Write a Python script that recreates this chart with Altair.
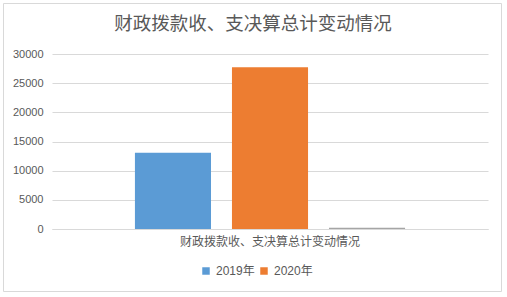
import altair as alt
import pandas as pd

category = "财政拨款收、支决算总计变动情况"
series = ["2019年", "2020年", "增减变动"]
values = [13070, 27750, 200]
colors = ["#5B9BD5", "#ED7D31", "#A5A5A5"]
legend_values = ["2019年", "2020年"]

df = pd.DataFrame({"cat": [category] * len(series), "series": series, "value": values})

FONT = "Liberation Sans, Noto Sans CJK SC"
GREY = "#595959"

bars = alt.Chart(df).mark_bar().encode(
    x=alt.X("cat:N", title=None,
            scale=alt.Scale(paddingInner=0, paddingOuter=0.307),
            axis=alt.Axis(labelAngle=0, labelFontSize=12, labelColor=GREY, labelFont=FONT,
                          ticks=False, domainColor="#D9D9D9", labelPadding=7, labelLimit=400)),
    xOffset=alt.XOffset("series:N", sort=series,
                        scale=alt.Scale(paddingInner=0.216, paddingOuter=0)),
    y=alt.Y("value:Q", title=None,
            scale=alt.Scale(domain=[0, 30000], nice=False),
            axis=alt.Axis(values=[0, 5000, 10000, 15000, 20000, 25000, 30000],
                          format="d", labelFontSize=11, labelColor=GREY, labelFont=FONT,
                          domain=False, ticks=False, labelPadding=9,
                          gridColor="#D9D9D9", gridWidth=1)),
    color=alt.Color("series:N", sort=series,
                    scale=alt.Scale(domain=series, range=colors),
                    legend=alt.Legend(title=None, values=legend_values, orient="none",
                                      direction="horizontal", legendX=148, legendY=211,
                                      symbolType="square", symbolSize=56,
                                      labelFontSize=12, labelColor=GREY, labelFont=FONT,
                                      columnPadding=3, labelOffset=4)),
)

border = alt.Chart(pd.DataFrame({"a": [0]})).mark_rect(
    fill=None, stroke="#D9D9D9", strokeWidth=1
).encode(x=alt.value(-48.5), x2=alt.value(449.5), y=alt.value(-50.5), y2=alt.value(237.5))

chart = alt.layer(border, bars).properties(
    width=436, height=175,
    autosize=alt.AutoSizeParams(type="none"),
    padding={"left": 52, "top": 54, "right": 19, "bottom": 68},
    title=alt.TitleParams(category, fontSize=18.5, font=FONT, color=GREY, fontWeight="normal",
                          anchor="middle", dx=-17, offset=-30),
    background="white",
).configure_view(stroke=None)

chart.save("out.html", embed_options={"renderer": "svg", "actions": False})
